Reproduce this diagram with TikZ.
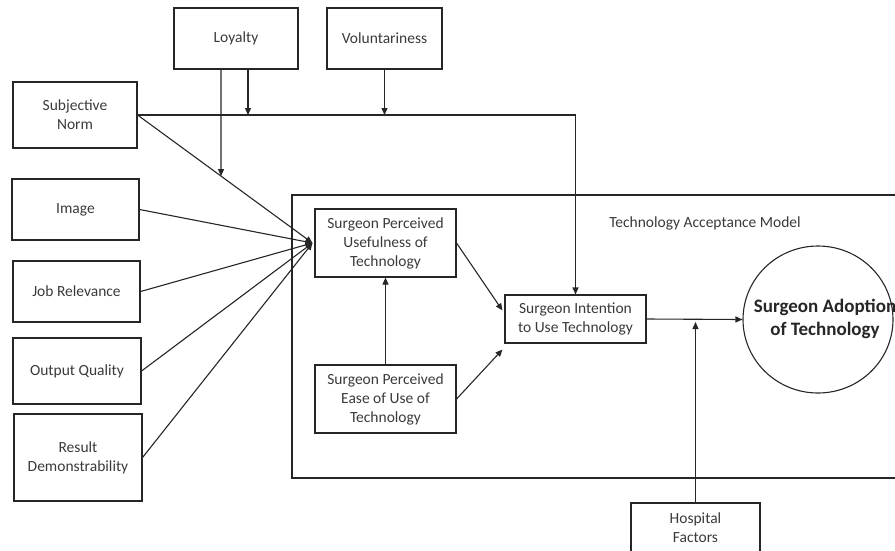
\documentclass[tikz,border=0pt]{standalone}
\usepackage{fontspec}
\setmainfont{Carlito}
\usetikzlibrary{calc,arrows.meta,shapes.geometric}
\definecolor{txt}{HTML}{3A3A3A}
\definecolor{ln}{HTML}{262626}
\tikzset{
  box/.style={draw=ln, line width=1.1pt, rectangle, align=center, text=txt,
    inner sep=0pt, font=\fontsize{15.5}{19}\selectfont},
  arr/.style={draw=ln, line width=1.1pt, -{Triangle[length=7pt,width=6pt]}},
}
\begin{document}
\begin{tikzpicture}[x=1pt,y=-1pt]
\useasboundingbox (0,0) rectangle (895,550);
\clip (0,0) rectangle (895,550);
% outer TAM frame
\node[box, minimum width=613pt, minimum height=283pt] (tam) at (598.5,336.5) {};
\node[text=txt, font=\fontsize{15.5}{19}\selectfont] (tamlbl) at (705,223) {Technology Acceptance Model};
% external factors
\node[box, minimum width=124pt, minimum height=61pt] (loy) at (236,38.5) {Loyalty};
\node[box, minimum width=115pt, minimum height=61pt] (vol) at (384.5,38.5) {Voluntariness};
\node[box, minimum width=124pt, minimum height=66pt] (sn) at (75,115) {Subjective\\Norm};
\node[box, minimum width=127pt, minimum height=61pt] (img) at (75.5,209.5) {Image};
\node[box, minimum width=127pt, minimum height=61pt] (job) at (76.5,291.5) {Job Relevance};
\node[box, minimum width=128pt, minimum height=66pt] (oq) at (77,371) {Output Quality};
\node[box, minimum width=128pt, minimum height=87pt] (rd) at (78,457.5) {Result\\Demonstrability};
% TAM nodes
\node[box, minimum width=141pt, minimum height=68pt] (pu) at (385.5,243) {Surgeon Perceived\\Usefulness of\\Technology};
\node[box, minimum width=141pt, minimum height=68pt] (eou) at (385.5,399) {Surgeon Perceived\\Ease of Use of\\Technology};
\node[box, minimum width=141pt, minimum height=48pt] (int) at (575.5,319) {Surgeon Intention\\to Use Technology};
\node[draw=ln, line width=1.1pt, ellipse, minimum width=150pt, minimum height=147pt, inner sep=0pt] (adopt) at (818,319.5) {};
\node[text=black!85, font=\fontsize{19}{23.5}\selectfont\bfseries, align=center] (adoptlbl) at (825,319) {Surgeon Adoption\\of Technology};
\node[box, minimum width=129pt, minimum height=49pt] (hosp) at (695.5,527.5) {Hospital\\Factors};
% convergence point
\coordinate (conv) at ($(pu.west)+(-2,0)$);
% subjective norm moderated path
\draw[arr] (sn.east) -| (int.north);
\draw[arr] (sn.east) -- (conv);
\draw[arr] ([xshift=-15pt]loy.south) -- ($(sn.east)!{(221-137)/(313-137)}!(conv)$);
\draw[arr] ([xshift=12pt]loy.south) -- ([xshift=12pt]loy.south |- sn.east);
\draw[arr] (vol.south) -- (vol.south |- sn.east);
% other determinants
\draw[arr] (img.east) -- (conv);
\draw[arr] (job.east) -- (conv);
\draw[arr] (oq.east) -- (conv);
\draw[arr] (rd.east) -- (conv);
% TAM internal
\draw[arr] (eou.north) -- (pu.south);
\draw[arr] (pu.east) -- ($(int.north west)+(-2,16)$);
\draw[arr] (eou.east) -- ($(int.south west)+(-2,6)$);
\draw[arr] (int.east) -- (adopt.west);
\draw[arr] (hosp.north) -- ($(hosp.north |- int.east)+(0,3)$);
\end{tikzpicture}
\end{document}
